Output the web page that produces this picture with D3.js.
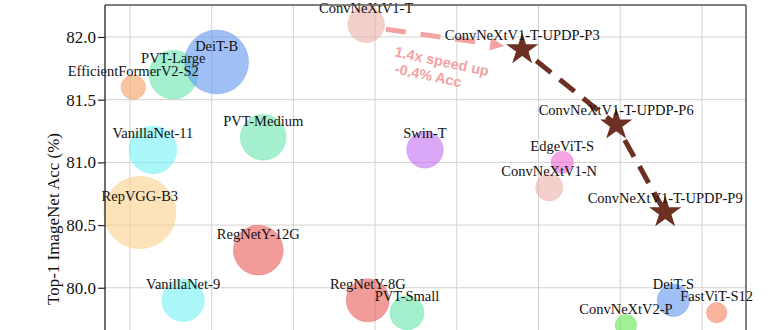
<!DOCTYPE html>
<html>
<head>
<meta charset="utf-8">
<script src="https://cdn.jsdelivr.net/npm/d3@7"></script>
<style>
  html, body { margin: 0; padding: 0; background: #fff; }
  svg { display: block; }
  text.serif { font-family: "Liberation Serif", "Times New Roman", serif; }
  text.note { font-family: "Liberation Sans", Arial, sans-serif; font-weight: bold; }
</style>
</head>
<body>
<svg id="chart" width="776" height="330"></svg>
<script>
// Baseline models (bubble area ~ parameter count)
const models = ["EfficientFormerV2-S2", "PVT-Large", "DeiT-B", "VanillaNet-11", "RepVGG-B3",
  "VanillaNet-9", "PVT-Medium", "RegNetY-12G", "ConvNeXtV1-T", "Swin-T", "RegNetY-8G",
  "PVT-Small", "EdgeViT-S", "ConvNeXtV1-N", "DeiT-S", "FastViT-S12", "ConvNeXtV2-P"];
const modelSpeed = [1.04, 1.53, 2.06, 1.28, 1.12, 1.65, 2.63, 2.57, 3.89, 4.61, 3.91,
  4.39, 6.29, 6.13, 7.65, 8.18, 7.07];
const modelAcc = [81.6, 81.7, 81.8, 81.1, 80.6, 79.9, 81.2, 80.3, 82.1, 81.1, 79.9,
  79.8, 81.0, 80.8, 79.9, 79.8, 79.7];
const modelParams = [12.6, 50, 86, 48, 110, 38, 44, 52, 28, 28, 39, 24.5, 10.5, 15.6, 22, 8.8, 9.8];
const modelFamily = ["EfficientFormer", "PVT", "DeiT", "VanillaNet", "RepVGG", "VanillaNet",
  "PVT", "RegNetY", "ConvNeXtV1", "Swin", "RegNetY", "PVT", "EdgeViT", "ConvNeXtV1",
  "DeiT", "FastViT", "ConvNeXtV2"];

// Pruned ConvNeXtV1-T variants
const pruned = ["ConvNeXtV1-T-UPDP-P3", "ConvNeXtV1-T-UPDP-P6", "ConvNeXtV1-T-UPDP-P9"];
const prunedSpeed = [5.80, 6.95, 7.55];
const prunedAcc = [81.9, 81.3, 80.6];

const yTicks = [80.0, 80.5, 81.0, 81.5, 82.0];
const xTicks = [1, 2, 3, 4, 5, 6, 7, 8];
const speedupLines = ["1.4x speed up", "-0.4% Acc"];

const familyColor = {
  EfficientFormer: "#f59d61", PVT: "#67e6ad", DeiT: "#6196ee", VanillaNet: "#71f0f3",
  RepVGG: "#fcd08a", RegNetY: "#e95858", ConvNeXtV1: "#ebb1a8", Swin: "#c16ef0",
  EdgeViT: "#ed67d2", FastViT: "#f58261", ConvNeXtV2: "#61e650"
};
const starColor = "#6c3123";
const pink = "#f4a2a2";

const svg = d3.select("#chart");
const plotLeft = 105, plotTop = 5, plotRight = 746, plotH = 358;

const x = d3.scaleLinear().domain([0.694, 8.539]).range([plotLeft, plotRight]);
const y = d3.scaleLinear().domain([79.4, 82.255]).range([plotTop + plotH, plotTop]);
const r = d3.scaleSqrt().domain([0, 100]).range([0, 34.5]);

// grid
const grid = svg.append("g").attr("stroke", "#d2d2d2").attr("stroke-width", 1);
grid.selectAll("line.v").data(xTicks).join("line").attr("class", "v")
  .attr("x1", d => x(d)).attr("x2", d => x(d)).attr("y1", plotTop).attr("y2", plotTop + plotH);
grid.selectAll("line.h").data(yTicks).join("line").attr("class", "h")
  .attr("x1", plotLeft).attr("x2", plotRight).attr("y1", d => y(d)).attr("y2", d => y(d));

// bubbles
const bubbles = models.map((m, i) => ({
  name: m, sx: modelSpeed[i], acc: modelAcc[i], p: modelParams[i], fam: modelFamily[i]
}));
svg.append("g").selectAll("circle").data(bubbles).join("circle")
  .attr("cx", d => x(d.sx)).attr("cy", d => y(d.acc)).attr("r", d => r(d.p))
  .attr("fill", d => familyColor[d.fam]).attr("fill-opacity", 0.6)
  .attr("stroke", d => familyColor[d.fam]).attr("stroke-opacity", 0.35).attr("stroke-width", 1);

// speed-up arrow from ConvNeXtV1-T towards the first pruned variant
const base = bubbles.find(d => d.name === "ConvNeXtV1-T");
const p0 = [x(base.sx), y(base.acc)];
const p1 = [x(prunedSpeed[0]), y(prunedAcc[0])];
const ang = Math.atan2(p1[1] - p0[1] - 3, p1[0] - p0[0]);
const ux = Math.cos(ang), uy = Math.sin(ang);
const start = [p0[0] + ux * 20, p0[1] + uy * 20 + 2];
const tip = [p1[0] - 18, start[1] + (p1[0] - 18 - start[0]) * Math.tan(ang)];
const headLen = 14, headW = 6.5;
const hb = [tip[0] - ux * headLen, tip[1] - uy * headLen];
svg.append("line")
  .attr("x1", start[0]).attr("y1", start[1]).attr("x2", hb[0]).attr("y2", hb[1])
  .attr("stroke", pink).attr("stroke-width", 5).attr("stroke-dasharray", "20,15");
svg.append("path")
  .attr("d", d3.line()([
    tip,
    [hb[0] - uy * headW, hb[1] + ux * headW],
    [hb[0] + uy * headW, hb[1] - ux * headW]
  ]) + "Z")
  .attr("fill", pink);

speedupLines.forEach((t, i) => {
  const tx = start[0] + 8, ty = start[1] + 27 + i * 17;
  svg.append("text").attr("class", "note").attr("x", tx).attr("y", ty)
    .attr("fill", pink).style("font-size", "14.5px")
    .attr("transform", `rotate(12, ${tx}, ${ty})`).text(t);
});

// dashed path through pruned variants
const stars = pruned.map((n, i) => ({ name: n, sx: prunedSpeed[i], acc: prunedAcc[i] }));
svg.append("path")
  .attr("d", d3.line().x(d => x(d.sx)).y(d => y(d.acc))(stars))
  .attr("fill", "none").attr("stroke", starColor).attr("stroke-width", 5)
  .attr("stroke-dasharray", "19,11").attr("stroke-dashoffset", -18);

const starSize = 17 * 17 / 0.8908130915292852;
svg.append("g").selectAll("path").data(stars).join("path")
  .attr("d", d3.symbol(d3.symbolStar, starSize))
  .attr("transform", d => `translate(${x(d.sx)},${y(d.acc)})`)
  .attr("fill", starColor);

// labels
const labels = bubbles.concat(stars);
svg.append("g").selectAll("text").data(labels).join("text").attr("class", "serif")
  .attr("x", d => x(d.sx))
  .attr("y", d => y(d.acc) - (d.name === "PVT-Large" ? 12 : d.p ? 11.5 : 10))
  .attr("text-anchor", "middle")
  .style("font-size", "14.5px").attr("fill", "#111")
  .text(d => d.name);

// frame
svg.append("line").attr("x1", plotLeft).attr("x2", plotRight).attr("y1", plotTop).attr("y2", plotTop)
  .attr("stroke", "#555").attr("stroke-width", 1.5);
svg.append("line").attr("x1", plotRight).attr("x2", plotRight).attr("y1", plotTop).attr("y2", plotTop + plotH)
  .attr("stroke", "#555").attr("stroke-width", 1.5);

// y axis
const yAxis = svg.append("g").attr("transform", `translate(${plotLeft},0)`)
  .call(d3.axisLeft(y).tickValues(yTicks).tickFormat(d3.format(".1f")).tickSize(7).tickPadding(2));
yAxis.select(".domain").attr("stroke", "#222").attr("stroke-width", 1.3)
  .attr("d", `M0,${plotTop}V${plotTop + plotH}`);
yAxis.selectAll(".tick line").attr("stroke", "#222").attr("stroke-width", 1.2);
yAxis.selectAll(".tick text").attr("class", "serif").attr("fill", "#111")
  .style("font-size", "17px");

svg.append("text").attr("class", "serif")
  .attr("transform", `translate(59, 219) rotate(-90)`)
  .attr("text-anchor", "middle").style("font-size", "17px").attr("fill", "#111")
  .text("Top-1 ImageNet Acc (%)");
</script>
</body>
</html>
